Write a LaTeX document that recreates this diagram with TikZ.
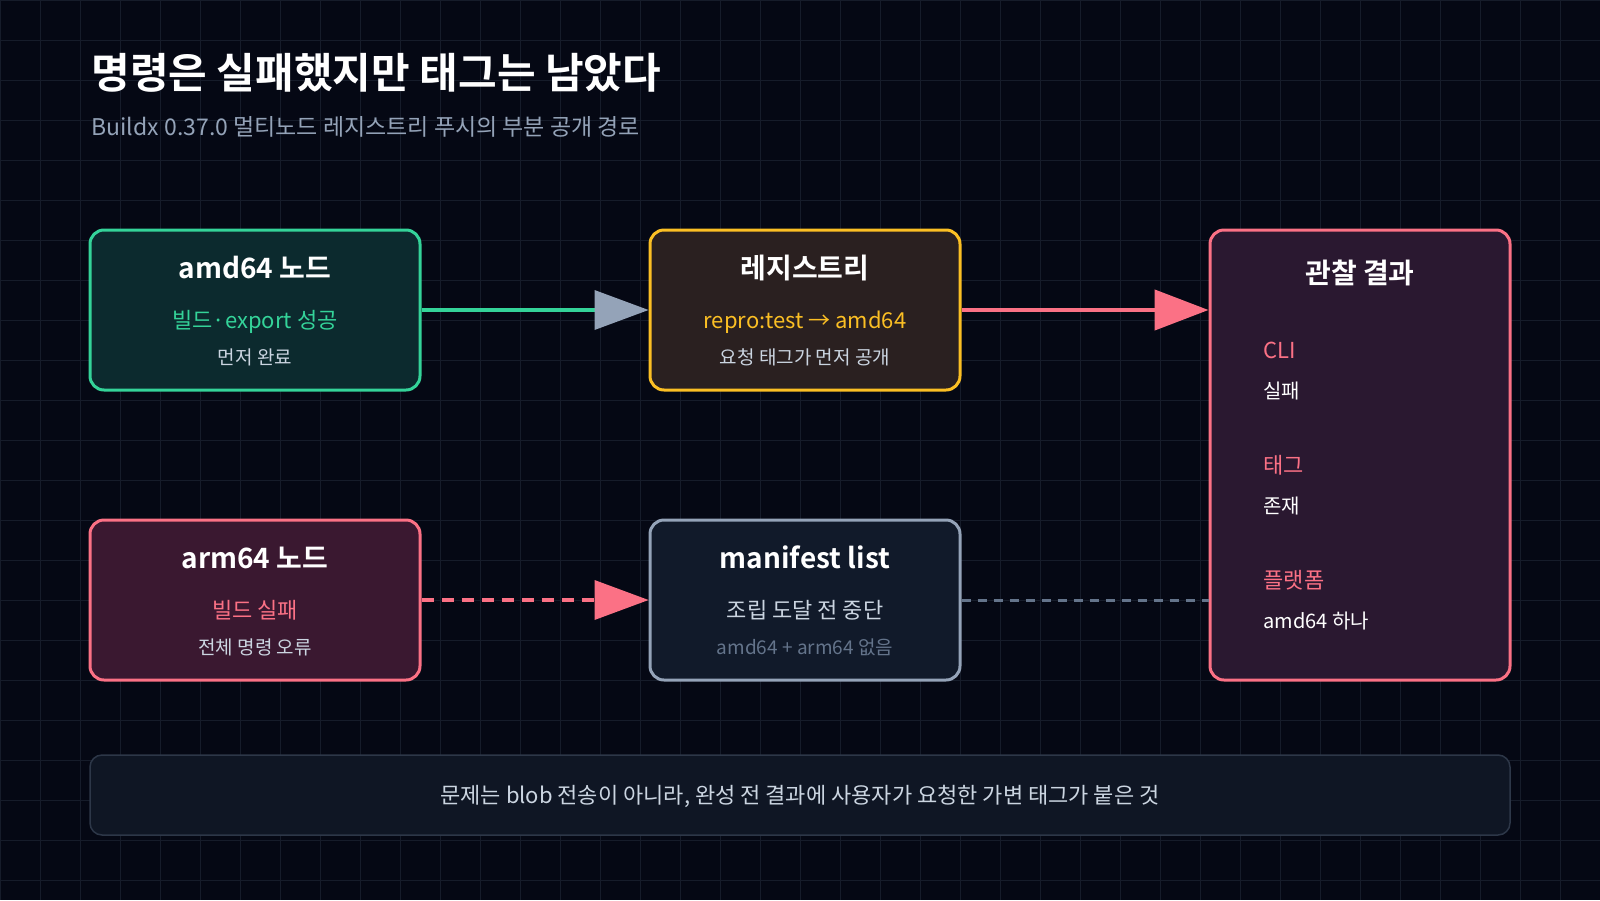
\documentclass[tikz,border=0pt]{standalone}
\usepackage{fontspec}
\setmainfont{Noto Sans CJK KR}
\newfontfamily\bfk{Noto Sans CJK KR Bold}
\usetikzlibrary{arrows.meta}
\definecolor{bg}{HTML}{050814}
\definecolor{gridc}{HTML}{161C2A}
\definecolor{grn}{HTML}{34D399}
\definecolor{grnf}{HTML}{0C2A2E}
\definecolor{yel}{HTML}{FBBF24}
\definecolor{yelf}{HTML}{2A2020}
\definecolor{pnk}{HTML}{FB7185}
\definecolor{pnkf}{HTML}{3A1830}
\definecolor{resf}{HTML}{2A1830}
\definecolor{gry}{HTML}{94A3B8}
\definecolor{gryf}{HTML}{111A2A}
\definecolor{subt}{HTML}{CBD5E1}
\definecolor{dim}{HTML}{64748B}
\definecolor{barf}{HTML}{0F1624}
\definecolor{bars}{HTML}{2D3748}
\tikzset{
 box/.style={draw, line width=3pt, rounded corners=14pt},
 ttl/.style={text=white, font=\bfk\fontsize{28}{30}\selectfont, anchor=base},
 l1/.style={font=\fontsize{22}{24}\selectfont, anchor=base},
 l2/.style={text=subt, font=\fontsize{19}{22}\selectfont, anchor=base},
 rl/.style={font=\fontsize{22}{24}\selectfont, anchor=base west},
 conn/.style={line width=4.5pt},
 head/.style={-{Triangle[length=54pt,width=40pt]}},
}
\begin{document}
\begin{tikzpicture}[x=1pt,y=-1pt]
\fill[bg] (0,0) rectangle (1600,900);
\useasboundingbox (0,0) rectangle (1600,900);
\foreach \i in {0,40,...,1600} \draw[gridc, line width=1pt] (\i,0) -- (\i,900);
\foreach \j in {0,40,...,880} \draw[gridc, line width=1pt] (0,\j) -- (1600,\j);
\node[anchor=base west, text=white, font=\bfk\fontsize{42}{46}\selectfont] (title) at (88,88) {명령은 실패했지만 태그는 남았다};
\node[anchor=base west, text=gry, font=\fontsize{23}{26}\selectfont] (sub) at (88,135) {Buildx 0.37.0 멀티노드 레지스트리 푸시의 부분 공개 경로};
% boxes
\node[box, draw=grn, fill=grnf, minimum width=330pt, minimum height=160pt] (amd) at (255,310) {};
\node[box, draw=yel, fill=yelf, minimum width=310pt, minimum height=160pt] (reg) at (805,310) {};
\node[box, draw=pnk, fill=pnkf, minimum width=330pt, minimum height=160pt] (arm) at (255,600) {};
\node[box, draw=gry, fill=gryf, minimum width=310pt, minimum height=160pt] (man) at (805,600) {};
\node[box, draw=pnk, fill=resf, minimum width=300pt, minimum height=450pt] (res) at (1360,455) {};
\node[draw=bars, fill=barf, line width=1.5pt, rounded corners=12pt, minimum width=1420pt, minimum height=80pt] (bar) at (800,795) {};
% texts
\node[ttl] at (255,278) {amd64 노드};
\node[l1, text=grn] at (255,328) {빌드·export 성공};
\node[l2] at (255,364) {먼저 완료};
\node[ttl] at (805,278) {레지스트리};
\node[l1, text=yel] at (805,328) {repro:test → amd64};
\node[l2] at (805,364) {요청 태그가 먼저 공개};
\node[ttl] at (255,568) {arm64 노드};
\node[l1, text=pnk] at (255,618) {빌드 실패};
\node[l2] at (255,654) {전체 명령 오류};
\node[ttl] at (805,568) {manifest list};
\node[l1, text=subt] at (805,618) {조립 도달 전 중단};
\node[l2, text=dim] at (805,654) {amd64 + arm64 없음};
\node[ttl] at (1360,283) {관찰 결과};
\node[rl, text=pnk] at (1260,358) {CLI};
\node[rl, text=white, font=\fontsize{20}{22}\selectfont] at (1260,398) {실패};
\node[rl, text=pnk] at (1260,473) {태그};
\node[rl, text=white, font=\fontsize{20}{22}\selectfont] at (1260,513) {존재};
\node[rl, text=pnk] at (1260,588) {플랫폼};
\node[rl, text=white, font=\fontsize{20}{22}\selectfont] at (1260,628) {amd64 하나};
\node[anchor=base, text=subt, font=\fontsize{22}{24}\selectfont] at (800,803) {문제는 blob 전송이 아니라, 완성 전 결과에 사용자가 요청한 가변 태그가 붙은 것};
% connectors
\draw[conn, grn] (amd.east) -- ([xshift=-52pt]reg.west);
\fill[gry] (reg.west) -- ++(-54,-20) -- ++(0,40) -- cycle;
\draw[conn, pnk, head] (reg.east) -- (res.west |- reg.east);
\draw[conn, pnk, dashed, dash pattern=on 12pt off 8pt] (arm.east) -- ([xshift=-52pt]man.west);
\fill[pnk] (man.west) -- ++(-54,-20) -- ++(0,40) -- cycle;
\draw[line width=3pt, dim, dash pattern=on 9pt off 7pt] (man.east) -- (res.west |- man.east);
\end{tikzpicture}
\end{document}
